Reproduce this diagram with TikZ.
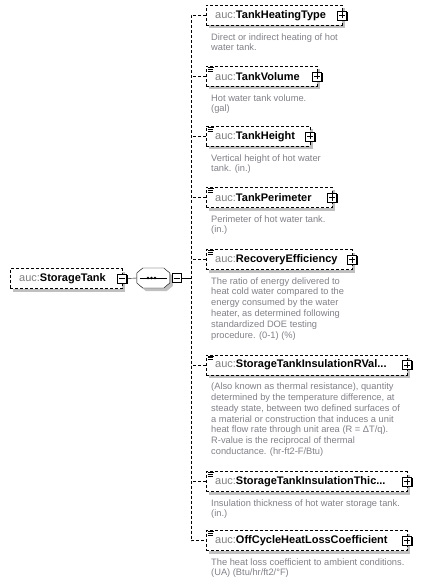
\documentclass[tikz,border=0pt]{standalone}
\usepackage{fontspec}
\setmainfont{Liberation Sans}
\usetikzlibrary{shadows}
\definecolor{nsgray}{RGB}{128,128,128}
\definecolor{descgray}{RGB}{128,128,136}
\definecolor{shadowgray}{RGB}{192,192,192}
\newcommand{\auc}{{\mdseries\color{nsgray}auc:}}

\begin{document}
\begin{tikzpicture}[x=1pt, y=-1pt,
  elem/.style={draw, dash pattern=on 3pt off 2pt, fill=white, anchor=west, align=left,
    minimum height=20pt, inner xsep=9pt, inner ysep=2pt,
    font=\fontsize{11}{13}\selectfont\bfseries,
    drop shadow={shadow xshift=3pt, shadow yshift=-3pt, fill=shadowgray, opacity=1}},
  listed/.style={path picture={
    \draw[solid, line width=0.9pt] ([xshift=1.5pt,yshift=-1pt]path picture bounding box.north west) -- ++(6,0)
      ([xshift=2pt,yshift=-2.8pt]path picture bounding box.north west) -- ++(5,0)
      ([xshift=2pt,yshift=-4.6pt]path picture bounding box.north west) -- ++(5,0);}},
  btn/.style={draw, solid, fill=white, line width=0.9pt, minimum size=9pt, inner sep=0pt,
    drop shadow={shadow xshift=0.8pt, shadow yshift=-0.8pt, fill=black, opacity=1}},
  plusbtn/.style={btn, path picture={
    \draw[line width=0.9pt] ([xshift=-3pt]path picture bounding box.center) -- ([xshift=3pt]path picture bounding box.center)
      ([yshift=-3pt]path picture bounding box.center) -- ([yshift=3pt]path picture bounding box.center);}},
  minusbtn/.style={btn, path picture={
    \draw[line width=0.9pt] ([xshift=-3pt]path picture bounding box.center) -- ([xshift=3pt]path picture bounding box.center);}},
  desc/.style={anchor=north west, align=left, inner sep=0pt, text=descgray,
    font=\fontsize{9.3}{10.8}\selectfont},
  dashline/.style={dash pattern=on 3pt off 2pt}]
\useasboundingbox (0,0) rectangle (422,585);

% Root element
\node[elem, text width=94pt] (root) at (10,278.5) {\auc StorageTank};
\node[minusbtn] (rootb) at (root.east) {};

% Sequence compositor
\node[minimum width=33pt, minimum height=20pt, inner sep=0pt] (seq) at (153.5,278) {};
\fill[shadowgray] ([shift={(3,3)}]seq.west) ++(0,-5) -- ++(6,-5) -- ++(21,0) -- ++(6,5) -- ++(0,10) -- ++(-6,5) -- ++(-21,0) -- ++(-6,-5) -- cycle;
\draw[fill=white] (seq.west) ++(0,-5) -- ++(6,-5) -- ++(21,0) -- ++(6,5) -- ++(0,10) -- ++(-6,5) -- ++(-21,0) -- ++(-6,-5) -- cycle;
\draw ([xshift=3pt]seq.west) -- ([xshift=-3pt]seq.east);
\fill ([xshift=-5.5pt]seq.center) circle (1.3) ([xshift=-2pt]seq.center) circle (1.3) ([xshift=1.5pt]seq.center) circle (1.3);
\node[minusbtn, anchor=west] (seqb) at ([xshift=1.5pt]seq.east) {};
\draw (rootb.east) -- (seq.west);

% Child elements
\node[elem, text width=118pt] (heating) at (206,15.5) {\auc TankHeatingType};
\node[plusbtn] (heatingb) at (heating.east) {};
\node[desc] (heatingd) at ([xshift=5pt,yshift=-7.5pt]heating.south west) {Direct or indirect heating of hot\\water tank.};

\node[elem, listed, text width=93pt] (volume) at (206,76.5) {\auc TankVolume};
\node[plusbtn] (volumeb) at (volume.east) {};
\node[desc] (volumed) at ([xshift=5pt,yshift=-7.5pt]volume.south west) {Hot water tank volume.\\(gal)};

\node[elem, listed, text width=86pt] (height) at (206,136.5) {\auc TankHeight};
\node[plusbtn] (heightb) at (height.east) {};
\node[desc] (heightd) at ([xshift=5pt,yshift=-7.5pt]height.south west) {Vertical height of hot water\\tank. (in.)};

\node[elem, listed, text width=108pt] (perim) at (206,197.5) {\auc TankPerimeter};
\node[plusbtn] (perimb) at (perim.east) {};
\node[desc] (perimd) at ([xshift=5pt,yshift=-7.5pt]perim.south west) {Perimeter of hot water tank.\\(in.)};

\node[elem, listed, text width=128pt] (recov) at (206,259.5) {\auc RecoveryEfficiency};
\node[plusbtn] (recovb) at (recov.east) {};
\node[desc] (recovd) at ([xshift=5pt,yshift=-7.5pt]recov.south west) {The ratio of energy delivered to\\heat cold water compared to the\\energy consumed by the water\\heater, as determined following\\standardized DOE testing\\procedure. (0-1) (\%)};

\node[elem, listed, text width=183pt] (rval) at (206,365) {\auc StorageTankInsulationRVal...};
\node[plusbtn] (rvalb) at (rval.east) {};
\node[desc] (rvald) at ([xshift=5pt,yshift=-7.5pt]rval.south west) {(Also known as thermal resistance), quantity\\determined by the temperature difference, at\\steady state, between two defined surfaces of\\a material or construction that induces a unit\\heat flow rate through unit area (R = ΔT/q).\\R-value is the reciprocal of thermal\\conductance. (hr-ft2-F/Btu)};

\node[elem, listed, text width=183pt] (thick) at (206,481.5) {\auc StorageTankInsulationThic...};
\node[plusbtn] (thickb) at (thick.east) {};
\node[desc] (thickd) at ([xshift=5pt,yshift=-7.5pt]thick.south west) {Insulation thickness of hot water storage tank.\\(in.)};

\node[elem, listed, text width=183pt] (offcyc) at (206,540.5) {\auc OffCycleHeatLossCoefficient};
\node[plusbtn] (offcycb) at (offcyc.east) {};
\node[desc] (offcycd) at ([xshift=5pt,yshift=-7.5pt]offcyc.south west) {The heat loss coefficient to ambient conditions.\\(UA) (Btu/hr/ft2/°F)};

% Connectors to children
\coordinate (trunk) at (191,540.5);
\draw (seqb.east) -- (seqb.east -| trunk);
\draw[dashline] (heating.west) -| (trunk) -- (offcyc.west);
\draw[dashline] (volume.west) -- (volume.west -| trunk);
\draw[dashline] (height.west) -- (height.west -| trunk);
\draw[dashline] (perim.west) -- (perim.west -| trunk);
\draw[dashline] (recov.west) -- (recov.west -| trunk);
\draw[dashline] (rval.west) -- (rval.west -| trunk);
\draw[dashline] (thick.west) -- (thick.west -| trunk);
\end{tikzpicture}
\end{document}
